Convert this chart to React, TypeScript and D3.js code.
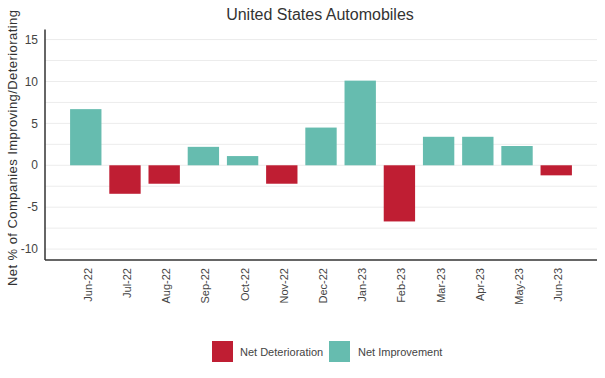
import React from "react";
import * as d3 from "d3";

const categories = ["Jun-22","Jul-22","Aug-22","Sep-22","Oct-22","Nov-22","Dec-22","Jan-23","Feb-23","Mar-23","Apr-23","May-23","Jun-23"];
const values = [6.7, -3.4, -2.2, 2.2, 1.1, -2.2, 4.5, 10.1, -6.7, 3.4, 3.4, 2.3, -1.2];
const yTicks = [-10, -5, 0, 5, 10, 15];
const gridTicks = [-10, -7.5, -5, -2.5, 0, 2.5, 5, 7.5, 10, 12.5, 15];
const seriesNames = ["Net Deterioration", "Net Improvement"];
const colors = ["#BF1E33", "#66BCAF"];

const W = 605, H = 378;
const left = 45, right = 597, top = 29.5, bottom = 260;

export default function App() {
  const x = d3.scaleBand<string>().domain(categories).range([left, right]).paddingInner(0.2).paddingOuter(0.64);
  const y = d3.scaleLinear().domain([-11.3, 16.2]).range([bottom, top]);
  const font = "'Liberation Sans', Arial, sans-serif";
  return (
    <svg width={W} height={H} style={{ position: "absolute", left: 0, top: 0, background: "#fff" }} fontFamily={font}>
      <text x={320} y={20} textAnchor="middle" fontSize={16} fill="#333">United States Automobiles</text>
      {gridTicks.map(t => (
        <line key={t} x1={left} x2={right} y1={y(t)} y2={y(t)} stroke="#ececec" strokeWidth={1} />
      ))}
      {yTicks.map(t => (
        <text key={t} x={38} y={y(t)} dy="0.35em" textAnchor="end" fontSize={12} fill="#444">{t}</text>
      ))}
      <text transform={`translate(17,148) rotate(-90)`} textAnchor="middle" fontSize={13} fill="#333"
        textLength={276} lengthAdjust="spacing">Net % of Companies Improving/Deteriorating</text>
      {values.map((v, i) => (
        <rect key={categories[i]} x={x(categories[i])!} width={x.bandwidth()}
          y={y(Math.max(0, v))} height={Math.abs(y(v) - y(0))}
          fill={v < 0 ? colors[0] : colors[1]} />
      ))}
      <line x1={left} x2={left} y1={top} y2={bottom} stroke="#333" strokeWidth={1.5} />
      <line x1={left} x2={right} y1={bottom} y2={bottom} stroke="#333" strokeWidth={1.5} />
      {categories.map(c => (
        <text key={c} transform={`translate(${x(c)! + x.bandwidth() / 2 + 6},268) rotate(-90)`} textAnchor="end" fontSize={11} fill="#444">{c}</text>
      ))}
      <rect x={212} y={341} width={21} height={21} fill={colors[0]} />
      <text x={240} y={352} dy="0.35em" fontSize={11} fill="#444">{seriesNames[0]}</text>
      <rect x={329} y={341} width={21} height={21} fill={colors[1]} />
      <text x={358} y={352} dy="0.35em" fontSize={11} fill="#444">{seriesNames[1]}</text>
    </svg>
  );
}
